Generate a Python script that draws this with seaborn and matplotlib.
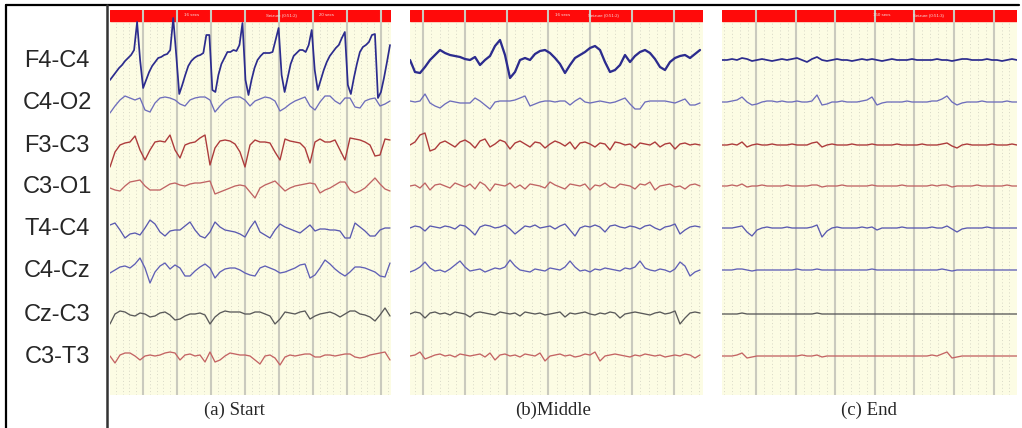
import matplotlib
matplotlib.use("Agg")
import matplotlib.pyplot as plt
from matplotlib.lines import Line2D
import numpy as np
import seaborn as sns

# ---- data -------------------------------------------------------------
channels = ["F4-C4", "C4-O2", "F3-C3", "C3-O1", "T4-C4", "C4-Cz", "Cz-C3", "C3-T3"]
panel_titles = ["(a) Start", "(b)Middle", "(c) End"]
bar_labels = [
    [("16 secs", 0.29), ("Seizure (0:51:2)", 0.61), ("20 secs", 0.77)],
    [("16 secs", 0.52), ("Seizure (0:51:2)", 0.66)],
    [("150 secs", 0.54), ("Seizure (0:51:3)", 0.70)],
]

# amplitude samples (positive = up), one list per channel and phase
start_f4c4 = [-20, -16, -12, -8, -5, -1, 2, 5, 10, 38, 0, -28, -20, -12, -6, -2, 2, 3, 5, 6,
              10, 42, 5, -34, -25, -15, -6, -1, 2, 4, 5, 7, 25, 25, -30, -32, -15, -4, 2, 8,
              8, 10, 9, 15, 37, -20, -35, -20, -8, 0, 4, 7, 7, 7, 8, 20, 32, -15, -32, -18,
              -4, 4, 7, 10, 10, 8, 15, 30, -10, -30, -20, -10, -2, 4, 8, 12, 15, 22, 28, -25,
              -34, -18, -4, 8, 13, 15, 18, 25, 26, -38, -32, -18, -2, 15]
start_c4o2 = [-11, -4, 2, 6, 4, 2, 4, -8, -10, -1, 4, 5, 4, 2, -2, -4, 2, 4, 5, 5, 2, -10, -4, 1,
              4, 5, 5, 2, -4, 1, 3, 5, 4, 1, -9, -6, -2, 1, 3, 5, -4, -8, 0, 6, 6, 1, -2, 4, 4,
              -5, -6, 1, 3, 4, -4, -2, 1]
start_f3c3 = [-22, -7, 0, 2, 3, 9, -5, -15, -5, 3, 4, 3, 10, -5, -13, 0, 2, 3, 7, 10, -20, -3,
              4, 5, 4, 1, -7, -22, 0, 5, 3, 3, 2, -7, -15, 6, 4, 3, 2, -3, -18, 3, 6, 3, 3, 5,
              -5, -15, 7, 6, 5, 3, 0, -11, -10, 6, 5]
start_c3o1 = [-2, -4, -5, 0, 4, 5, 6, 0, -4, -4, -4, -1, 2, 3, 1, 0, 2, 3, 3, 4, 5, -8, -6, -4,
              -2, 0, 1, 0, -6, -12, -2, 1, 3, 5, 0, -5, -2, 0, 1, 2, 3, 2, -7, -4, -2, 1, 4, 4,
              -4, -7, -5, -2, 3, 8, 2, -3, -5]
start_t4c4 = [3, 5, -2, -10, -6, -5, -7, 0, 8, 4, -4, -8, -3, -2, -2, 2, 6, -2, -8, -10, -4, 6,
              1, -2, -3, -4, -6, -9, 0, 7, -4, -7, -10, -2, 4, 1, -1, -3, -5, -1, 3, -3, -1, -1,
              -2, -2, -3, -10, -10, 5, 1, -3, -8, -8, -2, 0, 0]
start_c4cz = [-3, 0, 3, 4, 2, 6, 12, 2, -13, -2, 4, 7, 1, 5, 2, -6, -6, -1, 3, 6, 2, -8, -2, 1,
              2, 2, 0, -3, -5, -6, 2, 4, 2, 0, -3, -2, 0, 2, 5, 6, -8, -5, 2, 10, 6, 1, -3, -6,
              -2, 3, 3, 2, 0, -2, -6, -7, 7]
start_czc3 = [-10, 0, 3, 2, -1, -2, 1, 0, -3, -2, 1, 2, -1, -6, -5, -2, 0, 0, 1, -1, -10, -3, 1,
              3, 2, 2, 2, 0, 0, 2, 2, 0, -2, -10, -5, 2, 1, 0, 2, 3, -5, -2, 0, 1, 2, 0, -3, 0,
              3, 3, 0, -1, -3, -7, -1, 6, -2]
start_c3t3 = [0, -7, 1, 3, 3, 0, -4, 0, 1, 0, 1, 3, 4, 3, -4, 1, 2, 0, 1, -6, 4, -6, -4, 0, 3, 2,
              1, 1, 0, -4, -8, 0, 1, -2, -9, -1, 1, 0, 1, 2, 2, -1, -1, 1, 1, 0, 1, 2, 2, -1, -2,
              -1, 1, 2, 3, 4, -4]

middle_f4c4 = [0, -12, -13, -7, 0, 5, 10, 7, 5, 4, 3, 1, 0, 3, -5, 0, 4, 14, 20, 5, -18, -12, 0,
               2, 0, 6, 9, 10, 7, 2, -4, -13, -5, 2, 5, 8, 12, 14, 10, -2, -12, -10, -5, 5, -2,
               4, 8, 10, 7, 1, -7, -10, -2, 2, 4, 5, 2, 6, 10]
middle_c4o2 = [1, 0, 1, 8, -1, -4, -6, -2, 1, 0, -1, -1, -1, 4, 1, -3, -7, 0, 1, 1, 1, 2, 4, 6,
               -4, -2, 0, 1, 1, 0, 1, 1, -3, 1, 4, 0, -1, 0, 1, 0, -1, 0, 2, 4, -2, -7, -7, 0, 1,
               1, 1, 1, 0, -1, 1, 3, -3, -3, -1]
middle_f3c3 = [0, 3, 10, 12, -6, -4, 2, 4, 1, -2, 3, 5, 2, -3, 4, 6, -2, 1, 5, 3, -4, 2, 4, 1,
               -2, 3, 2, -3, 1, 4, 2, -1, 3, -4, 2, 3, 1, -2, 2, 1, -5, 3, 2, 0, 1, -3, 2, 1, 0,
               3, -2, 1, 2, -4, 1, 2, 0, 1, 0]
middle_c3o1 = [0, 1, -2, 3, -4, 1, 2, 0, -2, 3, 1, -1, 2, -3, 4, 1, -5, 2, 1, 0, 3, -2, 1, -3,
               2, 1, 0, -2, 4, 1, -1, -3, 2, 1, 0, 2, -4, 1, 0, 3, -1, -2, 2, 1, 0, -3, 2, 1, 4,
               -4, 0, 1, 2, -1, 0, -3, 1, 2, 0]
middle_t4c4 = [0, 2, 1, -3, 2, 1, 0, 2, 1, -1, 3, 2, -2, -7, 1, 3, 2, 0, 1, 3, -1, -6, -2, 2, 1,
               3, 0, 1, 2, -1, 2, 4, -2, -8, 0, 2, 1, 3, 1, -4, 2, 3, 1, 0, 2, 1, -1, 2, 3, 0,
               -2, 1, 2, 4, -6, -2, 1, 2, 1]
middle_c4cz = [-2, 0, 3, 8, 2, -1, 0, -2, 1, 5, 9, 3, -1, 0, 1, -2, 0, 2, 1, 3, 10, 4, 0, -1,
               -2, 1, 0, -1, 2, 1, 0, 3, 9, 3, -1, 0, -2, 1, 0, 2, 1, 0, -1, 2, 1, 3, 9, 2, 0,
               -1, 1, 0, -2, 1, 8, 4, -6, -2, 0]
middle_czc3 = [0, 2, 1, -4, 1, 2, 0, 1, -1, 2, 1, 0, -3, 1, 2, 1, 0, -1, 2, 1, 0, 1, -2, 2, 1,
               0, 1, -1, 0, 1, 2, -3, 1, 0, 1, 2, 0, -1, 1, 0, 2, 1, -4, 0, 1, 2, 1, 0, -1, 1, 2,
               0, 1, 3, -10, -4, 1, 2, 1]
middle_c3t3 = [0, 1, 4, -3, -1, 1, 2, 0, 1, -1, 2, 1, 0, 1, 2, -1, 3, -4, 1, 2, 0, 1, -1, 2, 1,
               0, 3, -5, 0, 1, 2, 0, 1, -1, 0, 2, 1, 4, -5, 0, 1, 2, 1, 0, -1, 1, 0, 2, 1, 0, 1,
               -1, 0, 1, 0, 2, 1, -2, 1]

end_f4c4 = [0, 0, 1, 0, 2, 1, -1, 0, 1, 0, -1, 0, 1, 0, 1, 2, 0, -2, 1, 3, 0, -1, 0, 1, 0, 0,
            -1, 0, 1, 0, 1, 0, -1, 0, 1, 0, 0, 0, 1, 0, 0, 0, 0, 1, 0, 0, -1, 0, 1, 1, 0, 0, 0,
            1, 0, 0, -1, 0, 1, 0]
end_c4o2 = [0, 0, 1, 2, 5, 0, -3, -2, 0, 1, 1, 0, 1, 0, 0, 1, 0, 0, 1, 7, -3, -2, 0, 0, 1, 0, 0,
            0, 1, 2, 5, -3, -1, 0, 0, 0, 0, 1, 0, 0, 0, 0, 1, 1, 3, 6, 0, -3, -1, 0, 0, 0, 1, 0,
            0, 0, 0, 1, 0, 0]
end_f3c3 = [0, 0, 1, 0, 3, -2, 0, 1, 0, 0, 1, 0, 0, 0, 1, 0, 0, 0, 2, 3, -2, 0, 1, 0, 0, 0, 1, 0,
            0, 0, 1, 0, 0, 0, 0, 1, 0, 0, 0, 0, 1, 0, 0, 0, 1, 2, -1, -3, 0, 1, 0, 0, 0, 0, 1, 0,
            0, 0, 1, 0]
end_c3o1 = [0, 0, 1, 0, 2, -1, 0, 0, 1, 0, 0, 0, 0, 1, 0, 0, 0, 0, 1, 1, -1, 0, 0, 0, 1, 0, 0, 0,
            0, 0, 1, 0, 0, 0, 0, 0, 1, 0, 0, 0, 0, 0, 1, 0, 1, 1, -1, 0, 0, 0, 0, 1, 0, 0, 0, 0,
            0, 1, 0, 0]
end_t4c4 = [0, 0, 0, 1, 2, -4, -8, -2, 0, 1, 0, 0, 0, 1, 0, 0, 0, 0, 1, 3, -9, -3, 0, 1, 0, 0, 0,
            0, 1, 0, 1, -2, 0, 0, 0, 0, 1, 0, 0, 0, 0, 0, 1, 0, 0, 2, -1, -4, -1, 0, 0, 0, 0, 1,
            0, 0, 0, 0, 0, 0]
end_c4cz = [0, 0, 0, 1, 1, 0, -1, 0, 0, 0, 0, 0, 0, 0, 0, 1, 0, 0, 0, 1, 0, 0, 0, 0, 0, 0, 0, 0,
            0, 0, 1, 0, 0, 0, 0, 0, 0, 0, 0, 0, 0, 0, 0, 0, 1, 0, -1, 0, 0, 0, 0, 0, 0, 0, 0, 0,
            0, 0, 0, 0]
end_czc3 = [0, 0, 0, 0, 1, 0, 0, 0, 0, 0, 0, 0, 0, 0, 0, 0, 0, 0, 0, 1, 0, 0, 0, 0, 0, 0, 0, 0,
            0, 0, 0, 0, 0, 0, 0, 0, 0, 0, 0, 0, 0, 0, 0, 0, 0, 0, 0, 0, 0, 0, 0, 0, 0, 0, 0, 0, 0,
            0, 0, 0]
end_c3t3 = [0, 0, 0, 1, 3, -2, -1, 0, 0, 0, 0, 0, 0, 0, 0, 0, 1, 0, 0, 1, -1, 0, 0, 0, 0, 0, 0, 0,
            0, 0, 0, 0, 0, 0, 0, 0, 0, 0, 0, 0, 0, 0, 1, 0, 2, 4, -2, -1, 0, 0, 0, 0, 0, 0, 0, 0,
            0, 0, 0, 0]

start = [start_f4c4, start_c4o2, start_f3c3, start_c3o1, start_t4c4, start_c4cz, start_czc3, start_c3t3]
middle = [middle_f4c4, middle_c4o2, middle_f3c3, middle_c3o1, middle_t4c4, middle_c4cz, middle_czc3, middle_c3t3]
end = [end_f4c4, end_c4o2, end_f3c3, end_c3o1, end_t4c4, end_c4cz, end_czc3, end_c3t3]
phases = [start, middle, end]

# ---- layout / style ---------------------------------------------------
W, H = 1022, 428
BASELINE = [60, 102, 145, 186, 228, 270, 314, 356]   # pixel rows of each channel
COLORS = ["#2c2c8e", "#6e6ebc", "#ad3c3c", "#c06464", "#5a5ab0", "#6060b6", "#5a5a5a", "#c46464"]
WIDTHS = [1.25, 0.95, 1.0, 0.95, 0.95, 0.95, 0.95, 0.95]
# left px, width px, px per second, first major line px, trace length px, caption x
PANELS = [
    (110, 281, 34.0, 33, 280, 234),
    (410, 293, 41.8, 13, 290, 553),
    (722, 295, 39.6, 34, 295, 869),
]
TOP, BOTTOM = 10, 395

sns.set_style("white")
plt.rcParams["font.family"] = ["Liberation Sans", "DejaVu Sans"]

fig = plt.figure(figsize=(W / 100, H / 100), dpi=100)
fig.patch.set_facecolor("white")

for p, (left, width, pps, first, tlen, capx) in enumerate(PANELS):
    ax = fig.add_axes([left / W, 1 - BOTTOM / H, width / W, (BOTTOM - TOP) / H])
    ax.set_facecolor("#fcfce4")
    span = width / pps
    ax.set_xlim(0, span)
    ax.set_ylim(BOTTOM - TOP, 0)

    # dotted minor grid and solid major lines (1 s)
    for xm in np.arange(first / pps % 0.2, span, 0.2):
        ax.axvline(xm, color="#d8d8c6", lw=0.7, ls=(0, (1, 2.5)), zorder=1)
    for xm in np.arange(first / pps, span, 1.0):
        ax.axvline(xm, color="#cacabe", lw=1.5, zorder=3)

    # red event bar
    ax.axhspan(0, 11, color="#ff0a0a", zorder=2)
    for txt, fx in bar_labels[p]:
        ax.text(fx * span, 5.5, txt, color="#f4dede", fontsize=3.2, ha="center", va="center", zorder=4)

    for c, vals in enumerate(phases[p]):
        vals = np.asarray(vals, dtype=float)
        t = np.linspace(0, tlen / pps, len(vals))
        y = (BASELINE[c] - TOP) - vals
        lw = WIDTHS[c] + (0.4 if (p == 1 and c == 0) else 0.0)
        sns.lineplot(x=t, y=y, ax=ax, color=COLORS[c], lw=lw,
                     estimator=None, sort=False, zorder=5)

    ax.set_xticks([])
    ax.set_yticks([])
    ax.set_xlabel("")
    ax.set_ylabel("")
    for s in ax.spines.values():
        s.set_visible(False)

    fig.text(capx / W, 1 - 410 / H, panel_titles[p], ha="center", va="center",
             fontsize=13.5, family=["Liberation Serif", "DejaVu Serif"])

for c, name in enumerate(channels):
    fig.text(57 / W, 1 - (BASELINE[c] + 1) / H, name, ha="center", va="center", fontsize=17)

# outer frame lines
fig.add_artist(Line2D([6 / W, 6 / W], [0, 1 - 5 / H], color="black", lw=1.6, transform=fig.transFigure))
fig.add_artist(Line2D([6 / W, 1019 / W], [1 - 5 / H, 1 - 5 / H], color="black", lw=1.6, transform=fig.transFigure))
fig.add_artist(Line2D([107 / W, 107 / W], [0, 1 - 5 / H], color="#333333", lw=1.8, transform=fig.transFigure))

fig.savefig("out.png", dpi=100)
